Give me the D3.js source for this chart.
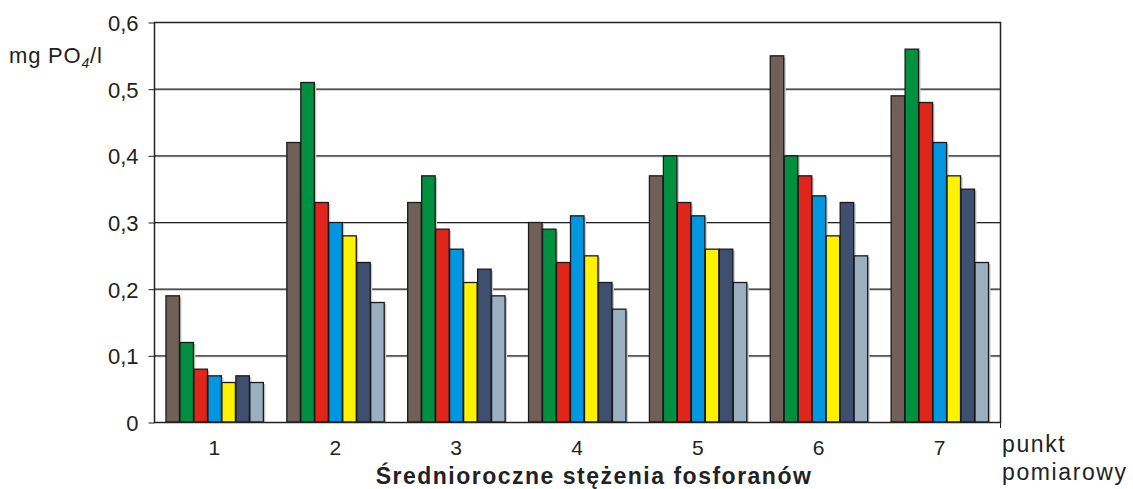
<!DOCTYPE html>
<html><head><meta charset="utf-8">
<script src="https://cdn.jsdelivr.net/npm/d3@7/dist/d3.min.js"></script>
<style>body{margin:0;background:#fff}svg{display:block;font-family:"Liberation Sans",Arial,sans-serif}</style>
</head><body><svg id="c" width="1133" height="489"></svg>
<script>
const categories = ["1","2","3","4","5","6","7"];
const series1 = [0.19,0.42,0.33,0.30,0.37,0.55,0.49];
const series2 = [0.12,0.51,0.37,0.29,0.40,0.40,0.56];
const series3 = [0.08,0.33,0.29,0.24,0.33,0.37,0.48];
const series4 = [0.07,0.30,0.26,0.31,0.31,0.34,0.42];
const series5 = [0.06,0.28,0.21,0.25,0.26,0.28,0.37];
const series6 = [0.07,0.24,0.23,0.21,0.26,0.33,0.35];
const series7 = [0.06,0.18,0.19,0.17,0.21,0.25,0.24];
const yTicks = [0,0.1,0.2,0.3,0.4,0.5,0.6];
const yTickLabels = ["0","0,1","0,2","0,3","0,4","0,5","0,6"];
const colors = ["#706059","#009040","#e0251b","#0096e0","#fff200","#3f4f70","#9aafbf"];

const allSeries = [series1,series2,series3,series4,series5,series6,series7];
const svg = d3.select("#c");
const L=154, R=1000, T=22, B=422;
const y = d3.scaleLinear().domain([0,0.6]).range([B,T]);
const x0 = d3.scaleBand().domain(categories).range([L,R]).paddingInner(0.19).paddingOuter(0.095);
const x1 = d3.scaleBand().domain(d3.range(7)).range([0,x0.bandwidth()]);

// gridlines
yTicks.slice(1,-1).forEach(t=>{
  svg.append("line").attr("x1",L).attr("x2",R).attr("y1",y(t)+1.5).attr("y2",y(t)+1.5).attr("stroke","#bbb").attr("stroke-width",1);
  svg.append("line").attr("x1",L).attr("x2",R).attr("y1",y(t)+0.5).attr("y2",y(t)+0.5).attr("stroke","#222").attr("stroke-width",1.2);
});

// bars
categories.forEach((c,ci)=>{
  allSeries.forEach((s,si)=>{
    const bx = x0(c)+x1(si), bw = x1.bandwidth();
    svg.append("rect").attr("x",bx+2).attr("y",y(s[ci])+2).attr("width",bw).attr("height",B-y(s[ci])-2).attr("fill","#c8c8c8");
  });
  allSeries.forEach((s,si)=>{
    const bx = x0(c)+x1(si), bw = x1.bandwidth();
    svg.append("rect").attr("x",bx+0.5).attr("y",y(s[ci])+0.5).attr("width",bw-0.5).attr("height",B-y(s[ci])-0.5)
      .attr("fill",colors[si]).attr("stroke","#1a1a1a").attr("stroke-width",1.3);
  });
});

// frame
svg.append("rect").attr("x",L+0.5).attr("y",T+0.5).attr("width",R-L).attr("height",B-T).attr("fill","none").attr("stroke","#222").attr("stroke-width",1.5);

// y axis
const yAxis = d3.axisLeft(y).tickValues(yTicks).tickFormat((d,i)=>yTickLabels[i]).tickSize(6).tickPadding(10);
const ga = svg.append("g").attr("transform",`translate(${L+0.5},1.5)`).call(yAxis);
ga.select(".domain").remove();
ga.selectAll("line").attr("stroke","#222").attr("transform","translate(0,-1)");
ga.selectAll("text").attr("font-size",22).attr("fill","#222").attr("font-family","Liberation Sans, Arial, sans-serif");

// x axis labels
const xAxis = d3.axisBottom(x0).tickSize(0).tickPadding(18);
const gx = svg.append("g").attr("transform",`translate(0,${B})`).call(xAxis);
gx.select(".domain").remove();
gx.selectAll("text").attr("font-size",21).attr("fill","#222").attr("font-family","Liberation Sans, Arial, sans-serif");
svg.append("line").attr("x1",R+0.5).attr("x2",R+0.5).attr("y1",B).attr("y2",B+6).attr("stroke","#222");

// y label
const yl = svg.append("text").attr("x",9).attr("y",63).attr("font-size",22).attr("letter-spacing",0.8).attr("fill","#222");
yl.append("tspan").text("mg PO");
yl.append("tspan").text("4").attr("font-size",14).attr("font-style","italic").attr("dy",5);
yl.append("tspan").text("/l").attr("dy",-5);

svg.append("text").attr("x",1002).attr("y",452).attr("font-size",23).attr("letter-spacing",1.6).attr("fill","#222").text("punkt");
svg.append("text").attr("x",1002).attr("y",480).attr("font-size",23).attr("letter-spacing",1.6).attr("fill","#222").text("pomiarowy");
svg.append("text").attr("x",594).attr("y",484).attr("text-anchor","middle").attr("font-size",23).attr("font-weight","bold").attr("letter-spacing",1.5).attr("fill","#222").text("Średnioroczne stężenia fosforanów");
</script></body></html>
